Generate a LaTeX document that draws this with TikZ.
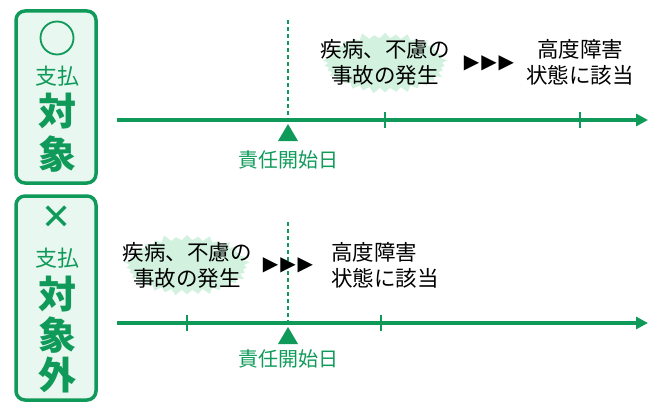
\documentclass[tikz,border=0pt]{standalone}
\usepackage{fontspec}
\setmainfont{Noto Sans CJK JP}
\newfontfamily\djv{DejaVu Sans}
\usetikzlibrary{shapes.symbols,arrows.meta}
\definecolor{g}{HTML}{109A5A}
\definecolor{lg}{HTML}{E8F7EF}
\definecolor{glow}{HTML}{D3F1DF}
\begin{document}
\begin{tikzpicture}[x=1pt,y=-1pt,
  lbox/.style={draw=g,line width=3.5pt,rounded corners=9pt,fill=lg},
  tline/.style={draw=g,line width=4pt,-{Triangle[length=12pt,width=12pt]}},
  dline/.style={draw=g,line width=1.3pt,dash pattern=on 4pt off 3pt},
  tick/.style={draw=g,line width=2.2pt},
  gtxt/.style={text=g,font=\fontsize{20}{22}\selectfont},
  btxt/.style={font=\fontsize{21.5}{26}\selectfont,align=center,inner sep=0pt},
  burst/.style={starburst,starburst points=34,starburst point height=7pt,fill=glow,draw=none,minimum width=128pt,minimum height=64pt},
  big/.style={text=g,font=\fontsize{38}{40}\selectfont\bfseries},
  mid/.style={text=g,font=\fontsize{22}{24}\selectfont},
  arr/.style={font=\djv\fontsize{20}{20}\selectfont}]
\useasboundingbox (0,0) rectangle (660,412);
% box 1
\draw[lbox] (16,11) rectangle (96,183);
\node[draw=g,line width=1.8pt,circle,minimum size=33pt,inner sep=0pt] (c1) at (57,38) {};
\node[mid] (s1) at (57,76) {支払};
\node[big] (t1) at (57,111) {対};
\node[big] (t2) at (57,154) {象};
% box 2
\draw[lbox] (16,196) rectangle (96,400);
\node[text=g,font=\djv\fontsize{36}{36}\selectfont\bfseries] (x2) at (57,218) {✕};
\node[mid] (s2) at (57,258) {支払};
\node[big] (u1) at (57,294) {対};
\node[big] (u2) at (57,335) {象};
\node[big] (u3) at (57,375) {外};
% timeline 1
\coordinate (a1) at (117,120); \coordinate (b1) at (648,120);
\draw[tline] (a1) -- (b1);
\coordinate (d1) at (288,20); \coordinate (e1) at (288,118);
\draw[dline] (d1) -- (e1);
\draw[tick] (385,112) -- (385,128);
\draw[tick] (580,112) -- (580,128);
\fill[g] (288,124) -- (278,141) -- (298,141) -- cycle;
\node[gtxt] (r1) at (288,160) {責任開始日};
\node[burst] (g1) at (385,63) {};
\node[btxt] (ev1) at (385,62) {疾病、不慮の\\事故の発生};
\node[arr] (ar1) at (489,63) {▶\kern2pt▶\kern2pt▶};
\node[btxt] (h1) at (580,62) {高度障害\\状態に該当};
% timeline 2
\coordinate (a2) at (117,323); \coordinate (b2) at (648,323);
\draw[tline] (a2) -- (b2);
\coordinate (d2) at (288,222); \coordinate (e2) at (288,321);
\draw[dline] (d2) -- (e2);
\draw[tick] (187,315) -- (187,331);
\draw[tick] (381,315) -- (381,331);
\fill[g] (288,327) -- (278,344) -- (298,344) -- cycle;
\node[gtxt] (r2) at (288,359) {責任開始日};
\node[burst] (g2) at (187,265) {};
\node[btxt] (ev2) at (187,265) {疾病、不慮の\\事故の発生};
\node[arr] (ar2) at (288,265) {▶\kern2pt▶\kern2pt▶};
\node[btxt,align=left,anchor=west] (h2) at (331,265) {高度障害\\状態に該当};
\end{tikzpicture}
\end{document}
